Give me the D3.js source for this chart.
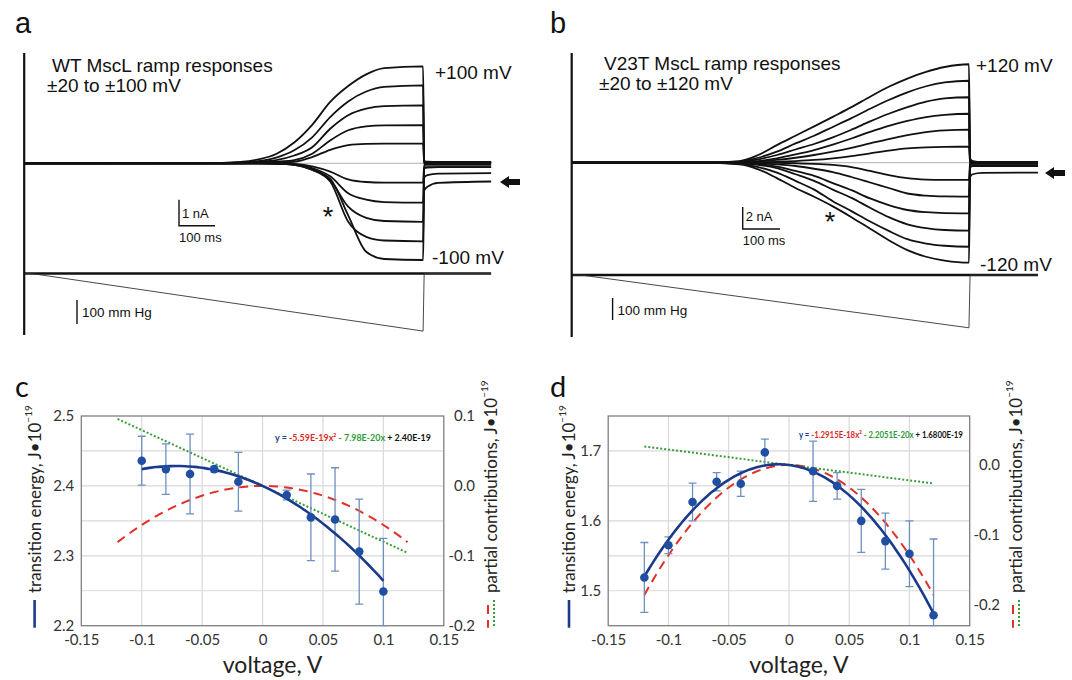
<!DOCTYPE html>
<html>
<head>
<meta charset="utf-8">
<script src="https://cdn.jsdelivr.net/npm/d3@7"></script>
<style>
  body { margin: 0; background: #fff; }
  svg { display: block; }
  .trace text { font-family: "Liberation Sans", Arial, sans-serif; fill: #111; }
  .fit text { font-family: Lato, "Open Sans", sans-serif; }
</style>
</head>
<body>
<div id="figure"></div>
<script>
// ---- a: WT MscL ramp responses (time in ms, current in nA)
const timeA = [0, 550, 600, 650, 700, 750, 800, 850, 900, 950, 1000, 1108];
const voltagesA = [100, 80, 60, 40, 20, -20, -40, -60, -80, -100];
const currentsA = [
  [0, 0.02, 0.05, 0.15, 0.36, 0.8, 1.48, 2.36, 2.97, 3.42, 3.66, 3.73],
  [0, 0.01, 0.03, 0.08, 0.22, 0.5, 1.0, 1.78, 2.38, 2.76, 2.94, 3.0],
  [0, 0, 0.02, 0.05, 0.12, 0.3, 0.62, 1.33, 1.85, 2.1, 2.2, 2.23],
  [0, 0, 0.01, 0.03, 0.06, 0.12, 0.37, 0.88, 1.27, 1.42, 1.46, 1.47],
  [0, 0, 0, 0.01, 0.02, 0.06, 0.24, 0.52, 0.7, 0.75, 0.76, 0.76],
  [0, 0, 0, 0, -0.01, -0.02, -0.12, -0.32, -0.62, -0.72, -0.74, -0.74],
  [0, 0, 0, 0, -0.01, -0.04, -0.18, -0.5, -1.15, -1.4, -1.49, -1.51],
  [0, 0, 0, 0, -0.01, -0.05, -0.22, -0.64, -1.67, -2.1, -2.22, -2.25],
  [0, 0, 0, 0, -0.01, -0.06, -0.25, -0.7, -2.25, -2.83, -2.97, -3.0],
  [0, 0, 0, 0, -0.01, -0.06, -0.25, -0.6, -2.0, -3.4, -3.68, -3.72]
];
const tailTimeA = [1111, 1120, 1150, 1297];
const tailsA = [
  [0.1, 0.06, 0.05, 0.05], [0.06, 0.05, 0.05, 0.05], [0.02, 0.02, 0.02, 0.02],
  [0, 0, 0, 0], [0, 0, 0, 0], [-0.06, -0.06, -0.06, -0.06],
  [-0.15, -0.15, -0.15, -0.15], [-0.2, -0.17, -0.15, -0.15],
  [-0.55, -0.45, -0.4, -0.38], [-1.05, -0.9, -0.75, -0.7]
];
const pressTimeA = [0, 20, 1108, 1111, 1297];
const pressA = [0, 0, -240, 0, 0];   // mm Hg

// ---- b: V23T MscL ramp responses
const timeB = [0, 350, 450, 500, 550, 600, 650, 700, 750, 800, 850, 900, 950, 1000, 1065];
const voltagesB = [120, 100, 80, 60, 40, 20, -20, -40, -60, -80, -100, -120];
const currentsB = [
  [0, 0, 0.15, 0.7, 1.6, 2.45, 3.3, 4.17, 5.05, 6.0, 6.9, 7.65, 8.25, 8.7, 8.95],
  [0, 0, 0.1, 0.45, 1.0, 1.75, 2.45, 3.25, 4.05, 4.9, 5.7, 6.4, 6.95, 7.3, 7.45],
  [0, 0, 0.05, 0.3, 0.7, 1.2, 1.7, 2.3, 3.0, 3.75, 4.45, 5.05, 5.55, 5.85, 5.95],
  [0, 0, 0.03, 0.15, 0.4, 0.75, 1.15, 1.65, 2.2, 2.8, 3.35, 3.8, 4.15, 4.35, 4.45],
  [0, 0, 0.02, 0.1, 0.25, 0.45, 0.7, 1.0, 1.35, 1.75, 2.15, 2.5, 2.78, 2.93, 3.0],
  [0, 0, 0, 0.03, 0.08, 0.15, 0.25, 0.4, 0.6, 0.85, 1.1, 1.3, 1.4, 1.44, 1.45],
  [0, 0, 0, 0, -0.02, -0.05, -0.1, -0.2, -0.4, -0.75, -1.12, -1.4, -1.53, -1.57, -1.57],
  [0, 0, 0, -0.05, -0.15, -0.3, -0.55, -0.85, -1.3, -1.8, -2.3, -2.8, -3.0, -3.07, -3.09],
  [0, 0, -0.03, -0.12, -0.35, -0.75, -1.2, -1.85, -2.5, -3.25, -3.85, -4.3, -4.5, -4.58, -4.6],
  [0, 0, -0.05, -0.2, -0.5, -1.05, -1.65, -2.45, -3.2, -4.1, -4.95, -5.6, -5.95, -6.12, -6.18],
  [0, 0, -0.1, -0.4, -0.9, -1.65, -2.45, -3.5, -4.4, -5.35, -6.2, -6.95, -7.35, -7.55, -7.64],
  [0, 0, -0.15, -0.6, -1.4, -2.3, -3.1, -3.97, -4.95, -6.0, -7.05, -7.95, -8.55, -8.9, -9.09]
];
const tailTimeB = [1068, 1075, 1100, 1250];
const tailsB = [
  [0.4, 0.15, 0.05, 0.05], [0.2, 0.1, 0.05, 0.05], [0.05, 0.05, 0.05, 0.05],
  [0, 0, 0, 0], [0, 0, 0, 0], [0, 0, 0, 0],
  [0, 0, 0, 0], [-0.1, -0.1, -0.1, -0.1], [-0.12, -0.1, -0.1, -0.1],
  [-0.35, -0.3, -0.3, -0.3], [-0.4, -0.32, -0.3, -0.3], [-1.3, -1.05, -0.92, -0.9]
];
const pressTimeB = [0, 25, 1065, 1068, 1250];
const pressB = [0, 0, -240, 0, 0];

// ---- c: WT transition energy (J·1e-19) vs voltage (V)
const voltsC = [-0.10, -0.08, -0.06, -0.04, -0.02, 0.02, 0.04, 0.06, 0.08, 0.10];
const energyC = [2.436, 2.424, 2.417, 2.424, 2.406, 2.387, 2.355, 2.352, 2.306, 2.249];
const errorC = [0.035, 0.036, 0.057, 0.004, 0.042, 0.007, 0.062, 0.074, 0.075, 0.076];
const coefC = [-5.59, -0.798, 2.40];          // quadratic fit: x², x, const
const equationC = ["y = ", "-5.59E-19x²", " - 7.98E-20x", " + 2.40E-19"];

// ---- d: V23T transition energy
const voltsD = [-0.12, -0.10, -0.08, -0.06, -0.04, -0.02, 0.02, 0.04, 0.06, 0.08, 0.10, 0.12];
const energyD = [1.519, 1.565, 1.627, 1.656, 1.653, 1.698, 1.671, 1.650, 1.600, 1.571, 1.553, 1.465];
const errorD = [0.05, 0.012, 0.027, 0.013, 0.018, 0.019, 0.043, 0.019, 0.045, 0.04, 0.047, 0.109];
const coefD = [-12.915, -0.22051, 1.68];
const equationD = ["y = ", "-1.2915E-18x²", " - 2.2051E-20x", " + 1.6800E-19"];

const xTicks = [-0.15, -0.1, -0.05, 0, 0.05, 0.1, 0.15];

const svg = d3.select("#figure").append("svg")
    .attr("width", 1072)
    .attr("height", 680);

function tracePanel(o) {
    const g = svg.append("g").attr("class", "trace");
    const tEnd = o.tailTime[o.tailTime.length - 1];
    const x = d3.scaleLinear().domain([0, tEnd]).range([o.x0, o.x0 + tEnd * o.pxPerMs]);
    const y = d3.scaleLinear().domain([0, 1]).range([o.y0, o.y0 - o.pxPerNa]);
    const p = d3.scaleLinear().domain([0, -100]).range([o.p0, o.p0 + o.pxPer100]);

    const line = d3.line().x(d => x(d[0])).y(d => y(d[1])).curve(d3.curveMonotoneX);

    g.append("line")
        .attr("x1", x(0)).attr("x2", x(tEnd))
        .attr("y1", y(0)).attr("y2", y(0))
        .attr("stroke", "#9a9a9a").attr("stroke-width", 0.8);

    o.currents.forEach((vals, i) => {
        const pts = o.time.map((t, j) => [t, vals[j]])
            .concat(o.tailTime.map((t, j) => [t, o.tails[i][j]]));
        g.append("path")
            .attr("d", line(pts))
            .attr("fill", "none")
            .attr("stroke", "#111")
            .attr("stroke-width", 1.8);
    });

    // pressure
    g.append("line")
        .attr("x1", x(0)).attr("x2", x(tEnd))
        .attr("y1", p(0)).attr("y2", p(0))
        .attr("stroke", "#111").attr("stroke-width", 2.6);
    g.append("path")
        .attr("d", d3.line().x((d, i) => x(o.pressTime[i])).y(d => p(d))(o.press))
        .attr("fill", "none").attr("stroke", "#333").attr("stroke-width", 0.9);

    g.append("line")
        .attr("x1", x(0)).attr("x2", x(0))
        .attr("y1", o.axisTop).attr("y2", o.axisBottom)
        .attr("stroke", "#111").attr("stroke-width", 2.2);

    // scale bars
    const bx = o.bar[0], by = o.bar[1];
    g.append("path")
        .attr("d", `M${bx},${by - (y(0) - y(o.barNa))}V${by}H${bx + x(100) - x(0)}`)
        .attr("fill", "none").attr("stroke", "#111").attr("stroke-width", 1.4);
    g.append("text").attr("x", bx + 3).attr("y", by - 8).attr("font-size", 13).text(o.barNa + " nA");
    g.append("text").attr("x", bx).attr("y", by + 16).attr("font-size", 13).text("100 ms");

    const px = o.pBar[0], py = o.pBar[1];
    g.append("line")
        .attr("x1", px).attr("x2", px)
        .attr("y1", py).attr("y2", py + (p(-100) - p(0)))
        .attr("stroke", "#111").attr("stroke-width", 1.4);
    g.append("text").attr("x", px + 5).attr("y", py + 17).attr("font-size", 13.5).text("100 mm Hg");

    g.append("text").attr("x", o.label[0]).attr("y", o.label[1]).attr("font-size", 29).text(o.name);
    g.append("text").attr("x", o.title[0]).attr("y", o.title[1]).attr("font-size", 19).text(o.titleText[0]);
    g.append("text").attr("x", o.title[0] - 5).attr("y", o.title[1] + 20).attr("font-size", 19).text(o.titleText[1]);
    g.append("text").attr("x", o.vTop[0]).attr("y", o.vTop[1]).attr("font-size", 19).text("+" + o.voltages[0] + " mV");
    g.append("text").attr("x", o.vBot[0]).attr("y", o.vBot[1]).attr("font-size", 19).text(o.voltages[o.voltages.length - 1] + " mV");
    g.append("text").attr("x", o.star[0]).attr("y", o.star[1]).attr("font-size", 27)
        .attr("text-anchor", "middle").text("*");

    const ax = o.arrow[0], ay = o.arrow[1];
    g.append("path")
        .attr("d", `M${ax},${ay}L${ax + 9},${ay - 6}V${ay - 3}H${ax + 20}V${ay + 3}H${ax + 9}V${ay + 6}Z`)
        .attr("fill", "#111");
}

tracePanel({
    name: "a", label: [15, 33],
    x0: 24.2, pxPerMs: 0.36, y0: 163.3, pxPerNa: 26, p0: 273.5, pxPer100: 24,
    axisTop: 53, axisBottom: 335,
    time: timeA, currents: currentsA, tailTime: tailTimeA, tails: tailsA,
    pressTime: pressTimeA, press: pressA, voltages: voltagesA,
    bar: [179, 225.7], barNa: 1, pBar: [77, 300],
    title: [52, 72], titleText: ["WT MscL ramp responses", "±20 to ±100 mV"],
    vTop: [435, 79], vBot: [432, 264],
    star: [328, 226], arrow: [500, 182]
});

tracePanel({
    name: "b", label: [550, 33],
    x0: 571.7, pxPerMs: 0.373, y0: 162.7, pxPerNa: 11, p0: 275, pxPer100: 22,
    axisTop: 53, axisBottom: 337,
    time: timeB, currents: currentsB, tailTime: tailTimeB, tails: tailsB,
    pressTime: pressTimeB, press: pressB, voltages: voltagesB,
    bar: [742.7, 229], barNa: 2, pBar: [612.6, 298],
    title: [604, 70], titleText: ["V23T MscL ramp responses", "±20 to ±120 mV"],
    vTop: [976, 72], vBot: [980, 271],
    star: [830, 231], arrow: [1045, 173]
});

function fitPanel(o) {
    const g = svg.append("g").attr("class", "fit");
    const x = d3.scaleLinear().domain([-0.15, 0.15]).range([o.left, o.right]);
    const y = d3.scaleLinear().domain(o.yDomain).range([o.bottom, o.top]);
    const yr = d3.scaleLinear()
        .domain([o.yDomain[0] - o.coef[2], o.yDomain[1] - o.coef[2]])
        .range([o.bottom, o.top]);
    const fmt = v => String(+v.toFixed(2));

    g.selectAll(".vgrid").data(xTicks.slice(1, -1)).join("line")
        .attr("x1", d => x(d)).attr("x2", d => x(d))
        .attr("y1", o.top).attr("y2", o.bottom)
        .attr("stroke", "#d9d9d9").attr("stroke-width", 1.2);
    g.selectAll(".hgrid").data(o.grid).join("line")
        .attr("x1", o.left).attr("x2", o.right)
        .attr("y1", d => y(d)).attr("y2", d => y(d))
        .attr("stroke", "#d9d9d9").attr("stroke-width", 1.2);
    g.append("rect")
        .attr("x", o.left).attr("y", o.top)
        .attr("width", o.right - o.left).attr("height", o.bottom - o.top)
        .attr("fill", "none").attr("stroke", "#7f7f7f").attr("stroke-width", 1.3);

    const tickStyle = sel => sel.selectAll("text")
        .attr("font-size", 15).attr("fill", "#333").attr("font-family", "Lato, sans-serif");
    g.append("g")
        .attr("transform", `translate(0,${o.bottom})`)
        .call(d3.axisBottom(x).tickValues(xTicks).tickSize(0).tickPadding(9).tickFormat(fmt))
        .call(a => a.select(".domain").remove())
        .call(tickStyle);
    g.append("g")
        .attr("transform", `translate(${o.left},0)`)
        .call(d3.axisLeft(y).tickValues(o.leftTicks).tickSize(0).tickPadding(7).tickFormat(v => v.toFixed(1)))
        .call(a => a.select(".domain").remove())
        .call(tickStyle);
    g.append("g")
        .attr("transform", `translate(${o.right},0)`)
        .call(d3.axisRight(yr).tickValues(o.rightTicks).tickSize(0).tickFormat(v => v.toFixed(1)))
        .call(a => a.select(".domain").remove())
        .call(tickStyle)
        .selectAll("text").attr("text-anchor", "end").attr("x", o.rightLabelX - o.right);

    const vs = d3.range(-0.12, 0.12001, 0.004);
    g.append("path")
        .attr("d", d3.line().x(v => x(v)).y(v => yr(o.coef[0] * v * v))(vs))
        .attr("fill", "none").attr("stroke", "#e0302a").attr("stroke-width", 2)
        .attr("stroke-dasharray", "9,6");
    g.append("path")
        .attr("d", d3.line().x(v => x(v)).y(v => yr(o.coef[1] * v))(vs))
        .attr("fill", "none").attr("stroke", "#3a9d3a").attr("stroke-width", 2)
        .attr("stroke-dasharray", "2,2");

    g.selectAll(".err").data(o.volts).join("path")
        .attr("d", (v, i) => {
            const cx = x(v);
            const lo = Math.min(y(o.energy[i] - o.err[i]), o.bottom);
            const hi = y(o.energy[i] + o.err[i]);
            return `M${cx - 4},${hi}H${cx + 4}M${cx},${hi}V${lo}M${cx - 4},${lo}H${cx + 4}`;
        })
        .attr("fill", "none").attr("stroke", "#6f8fbf").attr("stroke-width", 1.3);

    const fitVs = d3.range(o.fitRange[0], o.fitRange[1] + 0.0001, 0.004);
    g.append("path")
        .attr("d", d3.line().x(v => x(v)).y(v => y(o.coef[0] * v * v + o.coef[1] * v + o.coef[2])).curve(d3.curveMonotoneX)(fitVs))
        .attr("fill", "none").attr("stroke", "#1b3a8c").attr("stroke-width", 2.6);

    g.selectAll(".pt").data(o.volts).join("circle")
        .attr("cx", v => x(v)).attr("cy", (v, i) => y(o.energy[i]))
        .attr("r", 4.3).attr("fill", "#1f4ea3");

    // fit equation, squeezed horizontally like the condensed original
    const eq = g.append("text")
        .attr("font-size", 10).attr("font-weight", "bold")
        .attr("font-family", "'Liberation Sans', Arial, sans-serif");
    const eqColors = ["#1f3d8f", "#d92b25", "#2e9a3a", "#111"];
    eq.append("tspan").text(o.equation.join(""));
    const natural = eq.node().getComputedTextLength();
    eq.selectAll("tspan").remove();
    o.equation.forEach((s, i) => eq.append("tspan").attr("fill", eqColors[i]).text(s));
    eq.attr("transform", `translate(${o.eq[0]},${o.eq[1]}) scale(${o.eq[2] / natural},1)`);

    // axis titles with line-style legends
    const lt = g.append("text")
        .attr("transform", `translate(${o.leftTitleX},${o.titleBase}) rotate(-90)`)
        .attr("dy", "0.35em").attr("font-size", 17).attr("fill", "#222");
    lt.append("tspan").text("transition energy, J•10");
    lt.append("tspan").attr("font-size", 10).attr("dy", "-0.9em").text("−19");
    g.append("line")
        .attr("x1", o.leftTitleX).attr("x2", o.leftTitleX)
        .attr("y1", o.titleBase + 7).attr("y2", o.bottom + 2)
        .attr("stroke", "#1b3a8c").attr("stroke-width", 2.6);

    const rt = g.append("text")
        .attr("transform", `translate(${o.rightTitleX},${o.titleBase}) rotate(-90)`)
        .attr("dy", "0.35em").attr("font-size", 17).attr("fill", "#222");
    rt.append("tspan").text("partial contributions, J•10");
    rt.append("tspan").attr("font-size", 10).attr("dy", "-0.9em").text("−19");
    g.append("line")
        .attr("x1", o.rightTitleX - 3).attr("x2", o.rightTitleX - 3)
        .attr("y1", o.titleBase + 12).attr("y2", o.bottom + 2)
        .attr("stroke", "#e0302a").attr("stroke-width", 2).attr("stroke-dasharray", "9,6");
    g.append("line")
        .attr("x1", o.rightTitleX + 3).attr("x2", o.rightTitleX + 3)
        .attr("y1", o.titleBase + 7).attr("y2", o.bottom + 2)
        .attr("stroke", "#3a9d3a").attr("stroke-width", 2).attr("stroke-dasharray", "2,2");

    g.append("text")
        .attr("x", (o.left + o.right) / 2 + 10).attr("y", 673)
        .attr("text-anchor", "middle").attr("font-size", 23).attr("fill", "#222")
        .text("voltage, V");

    g.append("text")
        .attr("x", o.label[0]).attr("y", o.label[1])
        .attr("font-family", "'Liberation Sans', Arial, sans-serif")
        .attr("font-size", 29).attr("fill", "#111").text(o.name);
}

fitPanel({
    name: "c", label: [15, 397],
    left: 81.3, right: 443.8, top: 416, bottom: 625.7,
    yDomain: [2.2, 2.5], grid: [2.25, 2.3, 2.35, 2.4, 2.45],
    leftTicks: [2.2, 2.3, 2.4, 2.5], rightTicks: [-0.2, -0.1, 0.0, 0.1], rightLabelX: 475,
    volts: voltsC, energy: energyC, err: errorC, coef: coefC, fitRange: [-0.1, 0.1],
    equation: equationC, eq: [275, 441, 156],
    leftTitleX: 34.6, rightTitleX: 491, titleBase: 593
});

fitPanel({
    name: "d", label: [550, 397],
    left: 608.2, right: 969.7, top: 416, bottom: 625.7,
    yDomain: [1.45, 1.75], grid: [1.5, 1.55, 1.6, 1.65, 1.7],
    leftTicks: [1.5, 1.6, 1.7], rightTicks: [-0.2, -0.1, 0.0], rightLabelX: 1000,
    volts: voltsD, energy: energyD, err: errorD, coef: coefD, fitRange: [-0.12, 0.12],
    equation: equationD, eq: [799, 438, 164],
    leftTitleX: 569, rightTitleX: 1016, titleBase: 593
});
</script>
</body>
</html>
